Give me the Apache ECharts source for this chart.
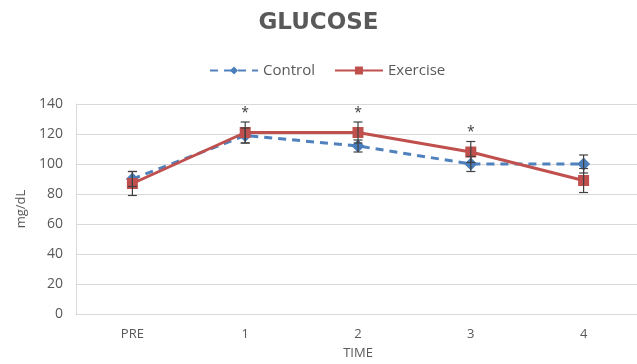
<!DOCTYPE html>
<html>
<head>
<meta charset="utf-8">
<script src="https://cdn.jsdelivr.net/npm/echarts@6/dist/echarts.min.js"></script>
<style>html,body{margin:0;padding:0;background:#fff}#c{width:637px;height:364px}</style>
</head>
<body>
<div id="c"></div>
<script>
const categories = ['PRE', '1', '2', '3', '4'];
const controlMean = [90, 119, 112, 100, 100];
const controlErr = [5, 5, 4, 5, 6];
const exerciseMean = [87, 121, 121, 108, 89];
const exerciseErr = [8, 7, 7, 7, 8];
const significant = [false, true, true, true, false];
const yTicks = { min: 0, max: 140, interval: 20 };

const font = 'Open Sans';
const txt = '#595959';

function errData(mean, err) {
  return mean.map((m, i) => [i, m - err[i], m + err[i]]);
}
const starData = [];
significant.forEach((s, i) => {
  if (s) starData.push([i, Math.max(controlMean[i] + controlErr[i], exerciseMean[i] + exerciseErr[i])]);
});

function errRender(params, api) {
  const x = api.value(0);
  const lo = api.coord([x, api.value(1)]);
  const hi = api.coord([x, api.value(2)]);
  const w = 4.5;
  const style = { stroke: '#404040', lineWidth: 1.2 };
  return {
    type: 'group',
    children: [
      { type: 'line', shape: { x1: lo[0], y1: lo[1], x2: hi[0], y2: hi[1] }, style },
      { type: 'line', shape: { x1: lo[0] - w, y1: lo[1], x2: lo[0] + w, y2: lo[1] }, style },
      { type: 'line', shape: { x1: hi[0] - w, y1: hi[1], x2: hi[0] + w, y2: hi[1] }, style }
    ]
  };
}
function starRender(params, api) {
  const p = api.coord([api.value(0), api.value(1)]);
  return {
    type: 'text',
    x: p[0], y: p[1] - 2,
    style: { text: '*', fill: '#404040', font: '14px ' + font, textAlign: 'center', textVerticalAlign: 'bottom' }
  };
}

const chart = echarts.init(document.getElementById('c'));
chart.setOption({
  animation: false,
  title: {
    text: 'GLUCOSE', left: 'center', top: 7,
    textStyle: { fontFamily: 'DejaVu Sans', fontSize: 23, fontWeight: 'bold', color: txt }
  },
  legend: {
    data: ['Control', 'Exercise'], top: 58, left: 204,
    itemWidth: 48, itemHeight: 10, itemGap: 19,
    textStyle: { fontFamily: font, fontSize: 15, color: txt }
  },
  grid: { left: 76, right: -3, top: 104, bottom: 50, outerBoundsMode: 'none', containLabel: false },
  xAxis: {
    type: 'category', data: categories, boundaryGap: true,
    name: 'TIME', nameLocation: 'middle', nameGap: 33,
    nameTextStyle: { fontFamily: font, fontSize: 13, color: txt },
    axisLine: { lineStyle: { color: '#d9d9d9' } },
    axisTick: { show: false },
    axisLabel: { fontFamily: font, fontSize: 13, color: txt, margin: 14 }
  },
  yAxis: {
    type: 'value', min: yTicks.min, max: yTicks.max, interval: yTicks.interval,
    name: 'mg/dL', nameLocation: 'middle', nameGap: 48,
    nameTextStyle: { fontFamily: font, fontSize: 13, color: txt },
    axisLine: { show: true, lineStyle: { color: '#d9d9d9' } },
    axisLabel: { fontFamily: font, fontSize: 14, color: txt, margin: 13 },
    splitLine: { lineStyle: { color: '#d9d9d9' } }
  },
  series: [
    {
      name: 'Control', type: 'line', data: controlMean,
      symbol: 'diamond', symbolSize: 13,
      itemStyle: { color: '#4a7ebb' },
      lineStyle: { color: '#4f81bd', width: 3, type: [8, 6] },
      z: 2
    },
    {
      name: 'Exercise', type: 'line', data: exerciseMean,
      symbol: 'rect', symbolSize: 11,
      itemStyle: { color: '#c0504d' },
      lineStyle: { color: '#c0504d', width: 3 },
      z: 3
    },
    { name: 'errC', type: 'custom', data: errData(controlMean, controlErr), renderItem: errRender, z: 4, silent: true },
    { name: 'errE', type: 'custom', data: errData(exerciseMean, exerciseErr), renderItem: errRender, z: 4, silent: true },
    { name: 'stars', type: 'custom', data: starData, renderItem: starRender, z: 5, silent: true }
  ]
});
</script>
</body>
</html>
